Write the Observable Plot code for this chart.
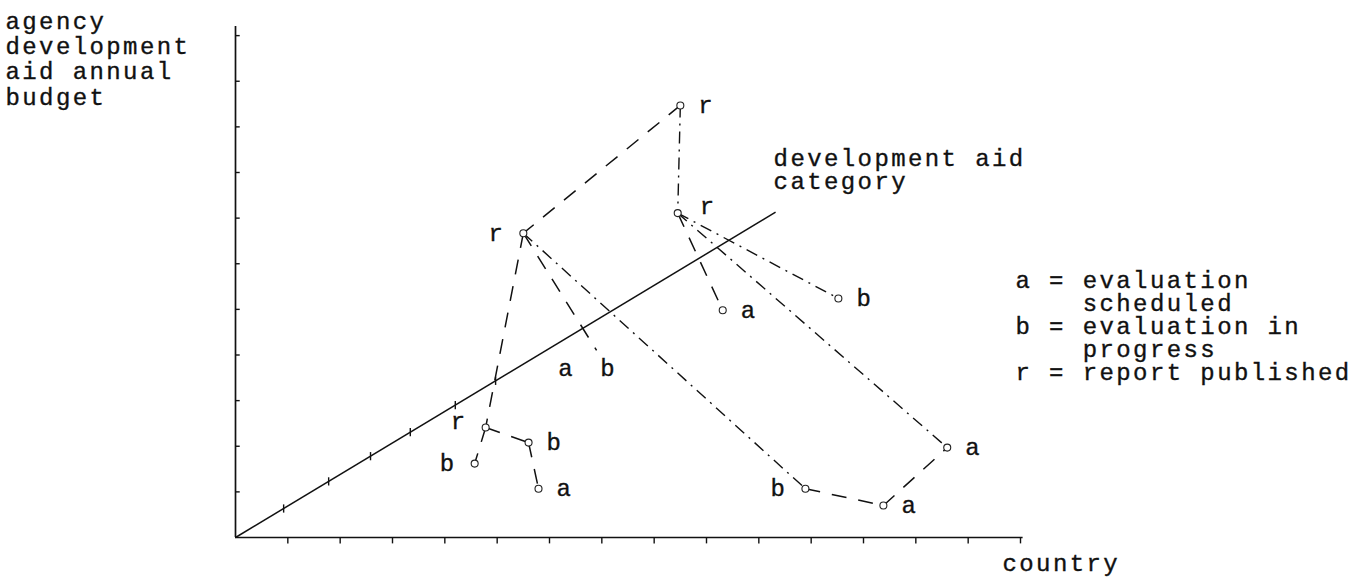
<!DOCTYPE html>
<html><head><meta charset="utf-8">
<script src="https://cdn.jsdelivr.net/npm/d3@7"></script>
<script src="https://cdn.jsdelivr.net/npm/@observablehq/plot@0.6"></script>
<style>
body{margin:0;background:#fff}
#chart svg{display:block}
#chart svg text{font-family:"Liberation Mono",monospace;letter-spacing:2.4px;stroke:#111;stroke-width:0.35px}
</style>
</head><body><div id="chart"></div>
<script>
// Points of the diagram (horizontal = country, vertical = budget, in axis units)
const pointId    = ["r1","r2","r3","r4","a1","b1","a2","a3","b2","b3","b4","a4"];
const pointLabel = ["r","r","r","r","a","b","a","a","b","b","b","a"];
const pointX     = [8.50, 8.45, 5.50, 4.78, 9.31, 11.52, 13.60, 12.38, 10.89, 4.57, 5.60, 5.79];
const pointY     = [9.47, 7.11, 6.67, 2.41, 4.98, 5.24, 1.97, 0.70, 1.07, 1.62, 2.08, 1.07];
const labelSide  = ["right","upper-right","left","upper-left","right","right","right","right","left","left","right","right"];

// Unmarked end point of a link with its "a" and "b" labels
const openEndX = 6.90, openEndY = 4.10;

// Connections between points ("dash" or "dashdot")
const edgeFrom  = ["r1","r1","r2","r2","r2","r3","r3","r3","b2","a3","r4","r4","b4"];
const edgeTo    = ["r3","r2","a1","b1","a2","r4","end","b2","a3","a2","b3","b4","a4"];
const edgeStyle = ["dash","dashdot","dash","dashdot","dashdot","dash","dash","dashdot","dash","dash","dash","dash","dash"];

// Axes
const xTicks = d3.range(1, 16);          // country ticks
const yTicks = d3.range(1, 12);          // budget ticks
const categoryEnd = {x: 10.32, y: 7.13};  // end of the development aid category axis
const categoryTicks = [0.92, 1.78, 2.58, 3.34, 4.20, 4.97];

const yLabel = ["agency", "development", "aid annual", "budget"];
const categoryLabel = ["development aid", "category"];
const legendLines = ["a = evaluation", "\u00a0\u00a0\u00a0\u00a0scheduled", "b = evaluation in", "\u00a0\u00a0\u00a0\u00a0progress", "r = report published"];
const xLabel = "country";

const points = pointId.map((id, i) => ({id, label: pointLabel[i], x: pointX[i], y: pointY[i], side: labelSide[i]}));
const byId = Object.fromEntries(points.map(p => [p.id, p]));
byId.end = {x: openEndX, y: openEndY};
const edges = edgeFrom.map((f, i) => ({x1: byId[f].x, y1: byId[f].y, x2: byId[edgeTo[i]].x, y2: byId[edgeTo[i]].y, style: edgeStyle[i]}));
const slope = categoryEnd.y / categoryEnd.x;
const catTickData = categoryTicks.map(x => ({x, y: x * slope}));

const font = 24;
const ink = "#111";
const labelMark = (side, opts) => Plot.text(points.filter(p => p.side === side), {x: "x", y: "y", text: "label", fontSize: font, fill: ink, ...opts});
const chart = Plot.plot({
  width: 1364, height: 580,
  marginLeft: 235, marginRight: 344, marginTop: 26, marginBottom: 43,
  x: {domain: [0, 15], axis: null},
  y: {domain: [0, 11.2], axis: null},
  marks: [
    Plot.ruleY([0], {x1: 0, x2: 15.05, stroke: ink, strokeWidth: 1.7}),
    Plot.ruleX([0], {y1: 0, y2: 11.2, stroke: ink, strokeWidth: 1.7}),
    Plot.ruleX(xTicks, {x: d => d, y1: 0, y2: -0.14, stroke: ink, strokeWidth: 1.4}),
    Plot.ruleY(yTicks, {y: d => d, x1: 0, x2: 0.09, stroke: ink, strokeWidth: 1.4}),
    Plot.link([categoryEnd], {x1: 0, y1: 0, x2: "x", y2: "y", stroke: ink, strokeWidth: 1.5}),
    Plot.link(catTickData, {x1: "x", x2: "x", y1: d => d.y - 0.09, y2: d => d.y + 0.09, stroke: ink, strokeWidth: 1.4}),
    Plot.link(edges.filter(e => e.style === "dash"), {x1: "x1", y1: "y1", x2: "x2", y2: "y2", stroke: ink, strokeWidth: 1.5, strokeDasharray: "15,12"}),
    Plot.link(edges.filter(e => e.style === "dashdot"), {x1: "x1", y1: "y1", x2: "x2", y2: "y2", stroke: ink, strokeWidth: 1.4, strokeDasharray: "12,6,2,6"}),
    Plot.dot(points, {x: "x", y: "y", r: 3.5, fill: "white", stroke: "#222", strokeWidth: 1.1}),
    labelMark("right", {dx: 18, textAnchor: "start"}),
    labelMark("upper-right", {dx: 22, dy: -7, textAnchor: "start"}),
    labelMark("left", {dx: -18, textAnchor: "end"}),
    labelMark("upper-left", {dx: -18, dy: -6, textAnchor: "end"}),
    Plot.text([{x: openEndX, y: openEndY}], {x: "x", y: "y", text: () => "a", dx: -30, dy: 18, fontSize: font, fill: ink}),
    Plot.text([{x: openEndX, y: openEndY}], {x: "x", y: "y", text: () => "b", dx: 12, dy: 18, fontSize: font, fill: ink}),
    Plot.text([yLabel.join("\n")], {frameAnchor: "top-left", text: d => d, dx: -230, dy: -16, lineHeight: 1.06, textAnchor: "start", lineAnchor: "top", fontSize: font, fill: ink}),
    Plot.text([categoryLabel.join("\n")], {x: categoryEnd.x, y: categoryEnd.y, text: d => d, dx: -2, dy: -63, lineHeight: 0.97, textAnchor: "start", lineAnchor: "top", fontSize: font, fill: ink}),
    Plot.text([legendLines.join("\n")], {frameAnchor: "top-right", text: d => d, dx: -5, dy: 245, lineHeight: 0.96, textAnchor: "start", lineAnchor: "top", fontSize: font, fill: ink}),
    Plot.text([xLabel], {frameAnchor: "bottom-right", text: d => d, dx: -18, dy: 33, textAnchor: "start", fontSize: font, fill: ink})
  ]
});
document.getElementById("chart").append(chart);
</script>
</body></html>
